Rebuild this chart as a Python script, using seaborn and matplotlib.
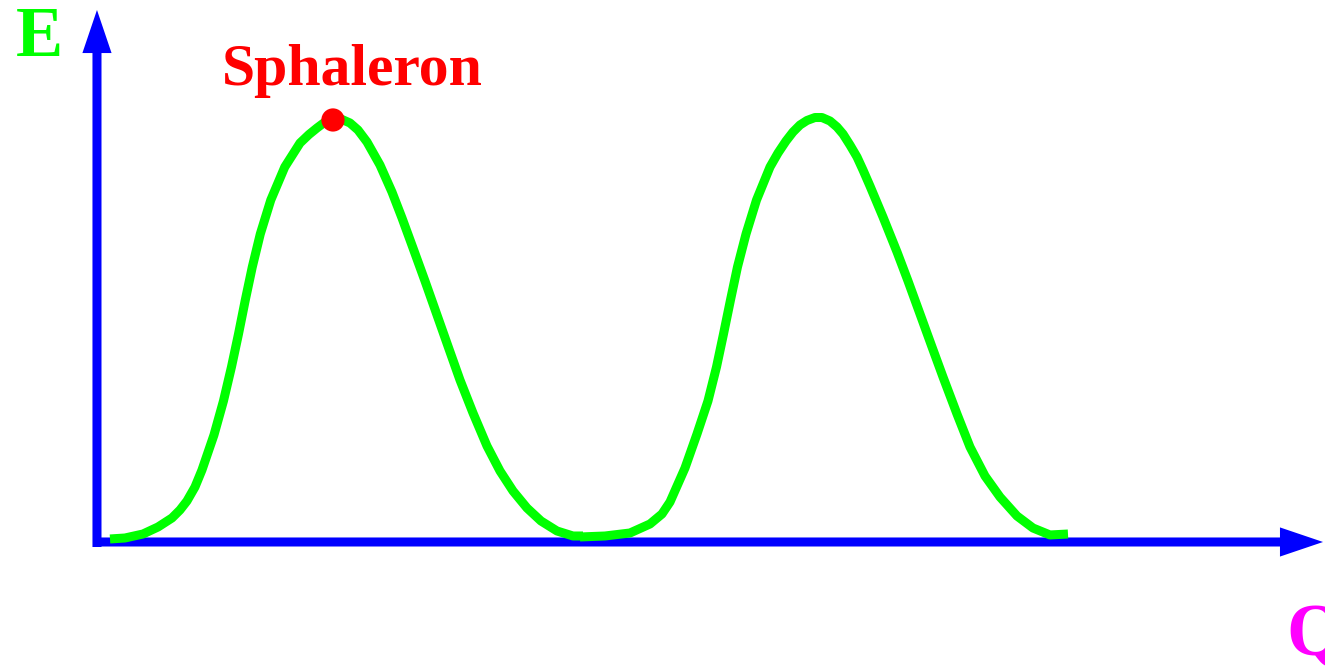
import matplotlib
matplotlib.use("Agg")
import matplotlib.pyplot as plt
import seaborn as sns
import pandas as pd
from matplotlib.patches import FancyArrowPatch

# Energy E along the configuration coordinate Q: first barrier
q_barrier1 = [0.0270, 0.0581, 0.0954, 0.1266, 0.1556, 0.1722, 0.1867, 0.2033, 0.2178,
              0.2427, 0.2624, 0.2790, 0.2936, 0.3077, 0.3222, 0.3388, 0.3606, 0.3896,
              0.4212, 0.4398, 0.4564, 0.4730, 0.4896, 0.5062, 0.5249, 0.5415, 0.5602,
              0.5871, 0.6120, 0.6328, 0.6556, 0.6805, 0.7054, 0.7303, 0.7531, 0.7801,
              0.8091, 0.8361, 0.8631, 0.8921, 0.9212, 0.9544, 0.9876, 1.0083]
e_barrier1 = [0.0071, 0.0094, 0.0188, 0.0353, 0.0565, 0.0753, 0.0965, 0.1294, 0.1694,
              0.2518, 0.3318, 0.4118, 0.4894, 0.5694, 0.6471, 0.7247, 0.8047, 0.8824,
              0.9388, 0.9588, 0.9741, 0.9882, 0.9976, 0.9953, 0.9859, 0.9694, 0.9412,
              0.8871, 0.8235, 0.7624, 0.6918, 0.6141, 0.5341, 0.4541, 0.3812, 0.3035,
              0.2259, 0.1671, 0.1200, 0.0800, 0.0494, 0.0259, 0.0141, 0.0141]

# Second barrier
q_barrier2 = [1.0021, 1.0539, 1.1058, 1.1473, 1.1722, 1.1888, 1.2199, 1.2448, 1.2676,
              1.2853, 1.2998, 1.3143, 1.3288, 1.3465, 1.3683, 1.3963, 1.4129, 1.4295,
              1.4440, 1.4585, 1.4730, 1.4896, 1.5041, 1.5207, 1.5353, 1.5477, 1.5622,
              1.5768, 1.5892, 1.6037, 1.6307, 1.6598, 1.6826, 1.7075, 1.7324, 1.7552,
              1.7842, 1.8112, 1.8423, 1.8734, 1.9087, 1.9419, 1.9772, 2.0145]
e_barrier2 = [0.0118, 0.0141, 0.0212, 0.0424, 0.0659, 0.0941, 0.1741, 0.2541, 0.3318,
              0.4118, 0.4894, 0.5694, 0.6471, 0.7247, 0.8047, 0.8824, 0.9153, 0.9435,
              0.9647, 0.9812, 0.9918, 0.9988, 0.9988, 0.9906, 0.9765, 0.9600, 0.9341,
              0.9059, 0.8753, 0.8376, 0.7647, 0.6824, 0.6141, 0.5365, 0.4588, 0.3882,
              0.3012, 0.2235, 0.1553, 0.1059, 0.0612, 0.0329, 0.0165, 0.0188]

# Sphaleron: top of the first barrier
sphaleron_q = [0.4896]
sphaleron_e = [0.9930]

GREEN = "#00FF00"
BLUE = "#0000FF"
RED = "#FF0000"
MAGENTA = "#FF00FF"

sns.set_theme(style="white")
plt.rcParams["font.family"] = ["Liberation Serif", "DejaVu Serif"]

fig = plt.figure(figsize=(13.25, 6.68), dpi=100)
ax = fig.add_axes([0, 0, 1, 1])
ax.set_xlim(-0.2012, 2.5477)
ax.set_ylim(-0.2965, 1.2753)
ax.axis("off")


def axis_arrow(start, end):
    """Solid filled arrow used for the E and Q axes."""
    arr = FancyArrowPatch(start, end, transform=ax.transData,
                          arrowstyle="simple,head_length=31,head_width=21,tail_width=6.5",
                          mutation_scale=1, lw=0, color=BLUE,
                          shrinkA=0, shrinkB=0, zorder=1)
    ax.add_patch(arr)


axis_arrow((0.0, -0.0118), (0.0, 1.2518))
axis_arrow((-0.0062, 0.0), (2.5436, 0.0))

df1 = pd.DataFrame({"Q": q_barrier1, "E": e_barrier1})
df2 = pd.DataFrame({"Q": q_barrier2, "E": e_barrier2})
for df in (df1, df2):
    sns.lineplot(data=df, x="Q", y="E", sort=False, estimator=None, ax=ax,
                 color=GREEN, lw=6.5, solid_capstyle="butt",
                 solid_joinstyle="round", zorder=2)

sns.scatterplot(x=sphaleron_q, y=sphaleron_e, ax=ax, s=280, color=RED,
                edgecolor="none", zorder=3)

fig.text(16 / 1325, 1 - 56 / 668, "E", color=GREEN, fontsize=51,
         fontweight="bold", ha="left", va="baseline")
fig.text(222 / 1325, 1 - 85 / 668, "Sphaleron", color=RED, fontsize=43,
         fontweight="bold", ha="left", va="baseline")
fig.text(1286 / 1325, 1 - 655 / 668, "Q", color=MAGENTA, fontsize=53,
         fontweight="bold", ha="left", va="baseline")

fig.savefig("out.png", dpi=100)
